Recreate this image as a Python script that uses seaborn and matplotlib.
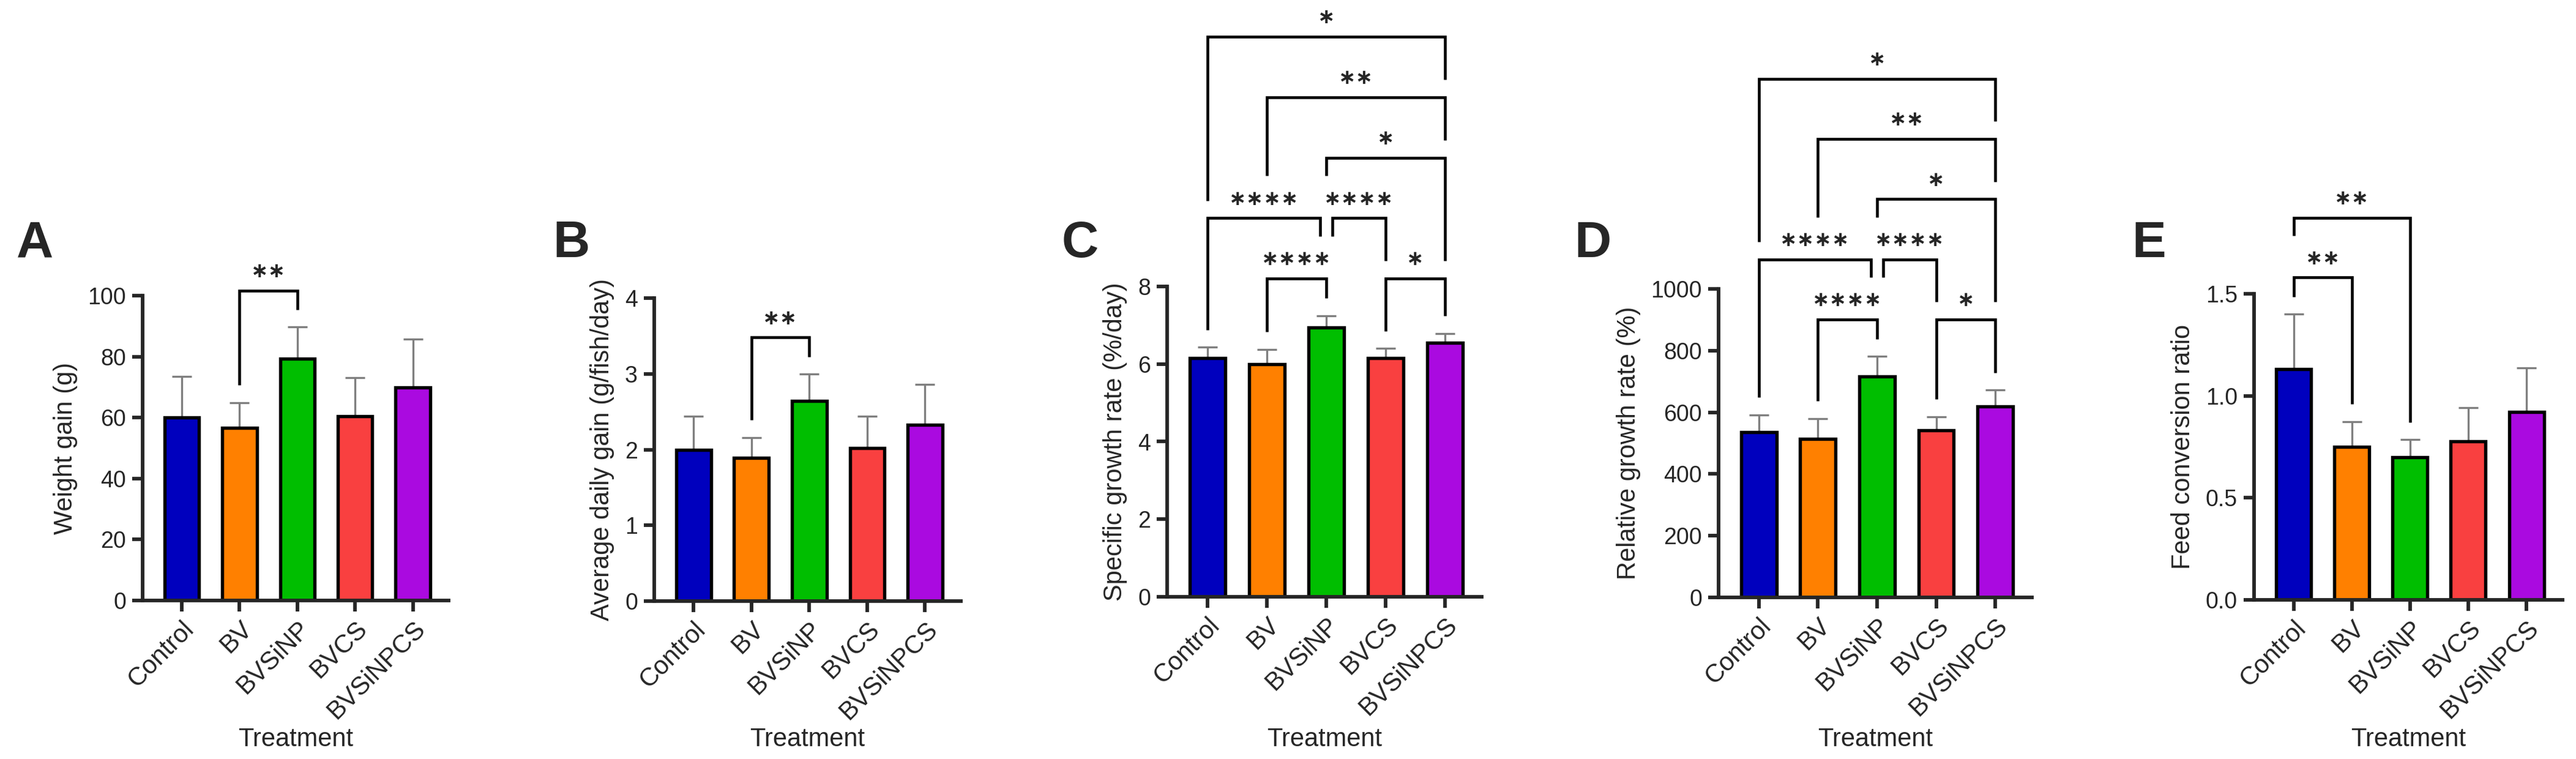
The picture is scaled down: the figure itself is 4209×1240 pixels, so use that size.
# %%
import numpy as np
import pandas as pd
import seaborn as sns
import matplotlib.pyplot as plt

# %%
# Treatments and bar colours
treatments = ['Control', 'BV', 'BVSiNP', 'BVCS', 'BVSiNPCS']
bar_colors = ['#0000BE', '#FF8000', '#00BE00', '#F94040', '#AA0AE0']

# Means and SD
weight_gain = [60.1, 56.7, 79.4, 60.5, 69.8]
weight_gain_sd = [13.3, 8.2, 10.3, 12.5, 15.9]

daily_gain = [2.00, 1.89, 2.64, 2.02, 2.33]
daily_gain_sd = [0.44, 0.27, 0.36, 0.42, 0.53]

sgr = [6.15, 6.00, 6.95, 6.15, 6.55]
sgr_sd = [0.28, 0.38, 0.29, 0.25, 0.24]

rgr = [536, 514, 716, 541, 619]
rgr_sd = [55, 66, 65, 44, 53]

fcr = [1.13, 0.75, 0.70, 0.776, 0.92]
fcr_sd = [0.27, 0.123, 0.085, 0.167, 0.217]

# significance comparisons: (group i, group j, stack level, label)
sig_ab = [(1, 2, 0, '**')]
sig_cd = [(1, 2, 0, '****'), (3, 4, 0, '*'), (0, 2, 1, '****'), (2, 3, 1, '****'),
          (2, 4, 2, '*'), (1, 4, 3, '**'), (0, 4, 4, '*')]
sig_e = [(0, 1, 0, '**'), (0, 2, 1, '**')]

# %%
sns.set_style('ticks')
plt.rcParams['font.family'] = ['Liberation Sans', 'DejaVu Sans']

W, H = 4209, 1240
fig = plt.figure(figsize=(W / 300, H / 300), dpi=300)

# axes boxes in pixels: left, right, bottom, top
panels = [
    dict(letter='A', means=weight_gain, sd=weight_gain_sd, ylabel='Weight gain (g)',
         ymax=100, ticks=[0, 20, 40, 60, 80, 100], fmt='{:.0f}', sig=sig_ab,
         box=(233, 733, 981, 483), letter_x=27),
    dict(letter='B', means=daily_gain, sd=daily_gain_sd, ylabel='Average daily gain (g/fish/day)',
         ymax=4, ticks=[0, 1, 2, 3, 4], fmt='{:.0f}', sig=sig_ab,
         box=(1069, 1570, 982, 487), letter_x=903),
    dict(letter='C', means=sgr, sd=sgr_sd, ylabel='Specific growth rate (%/day)',
         ymax=8, ticks=[0, 2, 4, 6, 8], fmt='{:.0f}', sig=sig_cd,
         box=(1907, 2421, 975, 468), letter_x=1735),
    dict(letter='D', means=rgr, sd=rgr_sd, ylabel='Relative growth rate (%)',
         ymax=1000, ticks=[0, 200, 400, 600, 800, 1000], fmt='{:.0f}', sig=sig_cd,
         box=(2808, 3320, 976, 472), letter_x=2572),
    dict(letter='E', means=fcr, sd=fcr_sd, ylabel='Feed conversion ratio',
         ymax=1.5, ticks=[0, 0.5, 1.0, 1.5], fmt='{:.1f}', sig=sig_e,
         box=(3683, 4187, 980, 480), letter_x=3483),
]


def draw_brackets(ax, means, sd, sig, ymax):
    tops = np.array(means) + np.array(sd)
    base = tops.max() + 0.12 * ymax
    step = 0.195 * ymax
    gap = 0.057 * ymax
    text_h = 0.08 * ymax
    # shift legs that share an endpoint on the same level
    legs = []
    for i, j, lev, lab in sig:
        x1, x2 = float(i), float(j)
        for i2, j2, lev2, _ in sig:
            if lev2 == lev and (i2, j2) != (i, j):
                if j == i2:
                    x2 -= 0.1
                if i == j2:
                    x1 += 0.1
        legs.append((x1, x2, lev, lab))
    drawn = []
    for x1, x2, lev, lab in sorted(legs, key=lambda s: s[2]):
        y = base + lev * step
        ends = []
        for x in (x1, x2):
            k = int(round(x))
            obst = tops[k] if abs(x - k) < 0.35 else 0
            for dx1, dx2, dy, xc, hw in drawn:
                if dy >= y:
                    continue
                if dx1 - 0.15 <= x <= dx2 + 0.15:
                    obst = max(obst, dy)
                    if abs(x - xc) <= hw + 0.35:
                        obst = max(obst, dy + text_h)
            ends.append(obst + gap)
        ax.plot([x1, x1, x2, x2], [ends[0], y, y, ends[1]], color='black', lw=1.1,
                clip_on=False, solid_joinstyle='miter', solid_capstyle='butt', zorder=3)
        xc = (x1 + x2) / 2
        ax.text(xc, y + 0.062 * ymax, '\u2217' * len(lab), ha='center', va='center',
                fontsize=8.2, fontweight='bold', family=['DejaVu Sans'], clip_on=False)
        drawn.append((x1, x2, y, xc, 0.125 * len(lab)))


for p in panels:
    l, r, b, t = p['box']
    ax = fig.add_axes([l / W, 1 - b / H, (r - l) / W, (b - t) / H])
    df = pd.DataFrame({'Treatment': treatments, 'value': p['means']})
    sns.barplot(data=df, x='Treatment', y='value', hue='Treatment', palette=bar_colors,
                legend=False, width=0.6, edgecolor='black', linewidth=1.3,
                saturation=1, errorbar=None, ax=ax, zorder=2)
    ax.errorbar(np.arange(len(treatments)), p['means'],
                yerr=[np.zeros(len(treatments)), p['sd']], fmt='none',
                ecolor='#7f7f7f', elinewidth=0.8, capsize=3.8, capthick=0.8, zorder=1)

    ax.set_xlim(-0.68, 4.62)
    ax.set_ylim(0, p['ymax'])
    ax.set_yticks(p['ticks'])
    ax.set_yticklabels([p['fmt'].format(v) for v in p['ticks']])
    sns.despine(ax=ax)
    for s in ('left', 'bottom'):
        ax.spines[s].set_linewidth(1.4)
    ax.tick_params(axis='y', length=4, width=1.4, labelsize=9, pad=2.5)
    ax.tick_params(axis='x', length=4.3, width=1.4, labelsize=10, pad=2)
    plt.setp(ax.get_xticklabels(), rotation=45, ha='right', rotation_mode='anchor')

    ax.set_ylabel(p['ylabel'], fontsize=10, labelpad=4)
    ax.set_xlabel('Treatment', fontsize=10, va='top')
    ax.xaxis.set_label_coords(0.5, (b - 1188) / (b - t))

    draw_brackets(ax, p['means'], p['sd'], p['sig'], p['ymax'])

    fig.text(p['letter_x'] / W, 1 - 420 / H, p['letter'], fontsize=20,
             fontweight='bold', va='baseline', ha='left')

plt.savefig('out.png', dpi=300)
